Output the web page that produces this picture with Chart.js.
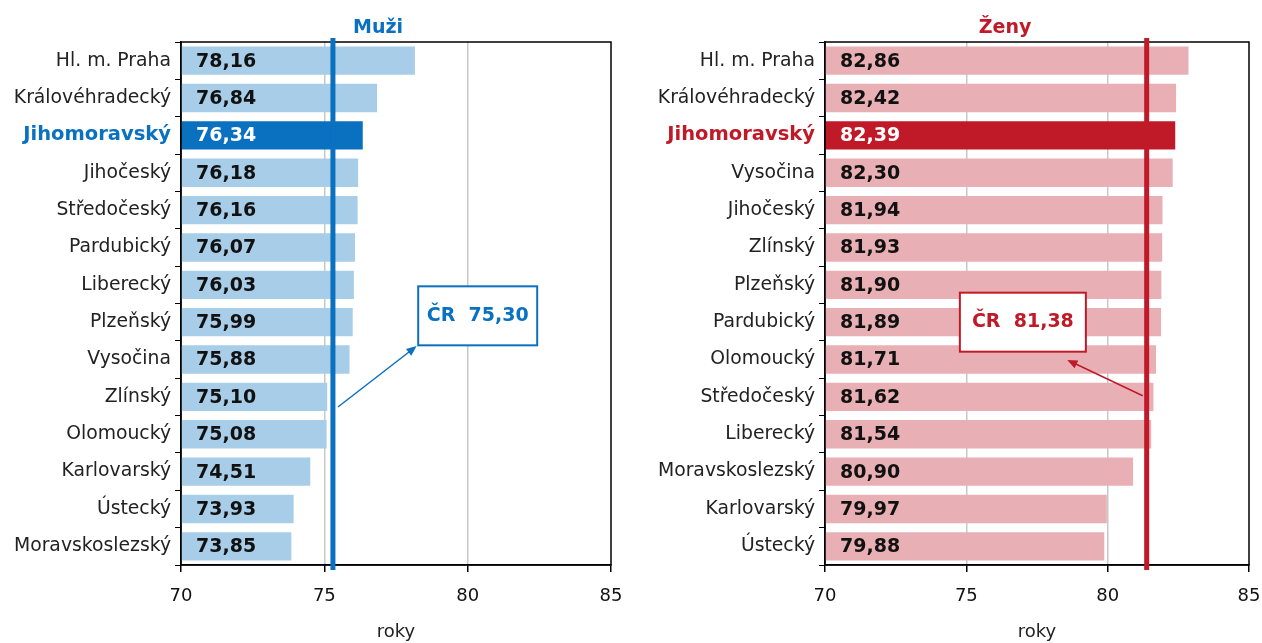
<!DOCTYPE html>
<html>
<head>
<meta charset="utf-8">
<script src="https://cdn.jsdelivr.net/npm/chart.js@4"></script>
<style>
  body { margin: 0; background: #fff; overflow: hidden; }
  .box { position: absolute; top: 0; height: 643px; }
  #left { left: 0; width: 640px; }
  #right { left: 640px; width: 640px; }
</style>
</head>
<body>
<div class="box" id="left"><canvas id="canvasM"></canvas></div>
<div class="box" id="right"><canvas id="canvasZ"></canvas></div>
<script>
//****DATA****//

var menRegions = ['Hl. m. Praha', 'Královéhradecký', 'Jihomoravský', 'Jihočeský', 'Středočeský', 'Pardubický', 'Liberecký', 'Plzeňský', 'Vysočina', 'Zlínský', 'Olomoucký', 'Karlovarský', 'Ústecký', 'Moravskoslezský'];
var menValues = [78.16, 76.84, 76.34, 76.18, 76.16, 76.07, 76.03, 75.99, 75.88, 75.10, 75.08, 74.51, 73.93, 73.85];
var menAverage = 75.30;

var womenRegions = ['Hl. m. Praha', 'Královéhradecký', 'Jihomoravský', 'Vysočina', 'Jihočeský', 'Zlínský', 'Plzeňský', 'Pardubický', 'Olomoucký', 'Středočeský', 'Liberecký', 'Moravskoslezský', 'Karlovarský', 'Ústecký'];
var womenValues = [82.86, 82.42, 82.39, 82.30, 81.94, 81.93, 81.90, 81.89, 81.71, 81.62, 81.54, 80.90, 79.97, 79.88];
var womenAverage = 81.38;

var xTicks = [70, 75, 80, 85];
var highlight = 'Jihomoravský';
var font = "'DejaVu Sans', Verdana, sans-serif";

//****HELPERS****//

function fmt(v) {
  return v.toFixed(2).replace('.', ',');
}

function arrow(ctx, x1, y1, x2, y2, color) {
  var ang = Math.atan2(y2 - y1, x2 - x1);
  ctx.strokeStyle = color;
  ctx.fillStyle = color;
  ctx.lineWidth = 1.5;
  ctx.beginPath();
  ctx.moveTo(x1, y1);
  ctx.lineTo(x2 - 6 * Math.cos(ang), y2 - 6 * Math.sin(ang));
  ctx.stroke();
  ctx.beginPath();
  ctx.moveTo(x2, y2);
  ctx.lineTo(x2 - 11 * Math.cos(ang - 0.4), y2 - 11 * Math.sin(ang - 0.4));
  ctx.lineTo(x2 - 11 * Math.cos(ang + 0.4), y2 - 11 * Math.sin(ang + 0.4));
  ctx.closePath();
  ctx.fill();
}

//****CHART BUILDER****//

function makeChart(id, opts) {
  var ctx = document.getElementById(id).getContext('2d');

  var colors = opts.labels.map(function(l) {
    return l === highlight ? opts.dark : opts.light;
  });

  var extras = {
    id: 'extras',
    afterDatasetsDraw: function(chart) {
      var c = chart.ctx;
      var area = chart.chartArea;
      var xs = chart.scales.x;
      var ys = chart.scales.y;
      var meta = chart.getDatasetMeta(0);

      // value labels inside the bars
      c.save();
      c.font = 'bold 19px ' + font;
      c.textBaseline = 'middle';
      c.textAlign = 'left';
      meta.data.forEach(function(bar, i) {
        c.fillStyle = opts.labels[i] === highlight ? '#fff' : '#111';
        c.fillText(fmt(opts.values[i]), area.left + 15, bar.y + 1);
      });

      // border of the plot
      c.strokeStyle = '#000';
      c.lineWidth = 1.5;
      c.strokeRect(area.left, area.top, area.right - area.left, area.bottom - area.top);

      // average line
      var ax = xs.getPixelForValue(opts.average);
      c.strokeStyle = opts.dark;
      c.lineWidth = 5;
      c.beginPath();
      c.moveTo(ax, area.top - 4);
      c.lineTo(ax, area.bottom + 5);
      c.stroke();

      // callout
      var bx = xs.getPixelForValue(opts.boxX);
      var by = ys.getPixelForValue(opts.boxY);
      var bw = opts.boxW, bh = 59;
      c.fillStyle = '#fff';
      c.fillRect(bx - bw / 2, by - bh / 2, bw, bh);
      c.strokeStyle = opts.dark;
      c.lineWidth = 2;
      c.strokeRect(bx - bw / 2, by - bh / 2, bw, bh);
      c.fillStyle = opts.dark;
      c.font = 'bold 19px ' + font;
      c.textAlign = 'center';
      c.fillText('ČR  ' + fmt(opts.average), bx, by);

      arrow(c, ax + opts.arrowFrom[0], ys.getPixelForValue(opts.arrowFrom[1]),
        xs.getPixelForValue(opts.arrowTo[0]), ys.getPixelForValue(opts.arrowTo[1]), opts.dark);

      // panel title
      c.fillStyle = opts.dark;
      c.font = 'bold 19px ' + font;
      c.textAlign = 'center';
      c.fillText(opts.title, (area.left + area.right) / 2 + opts.titleShift, 28);
      c.restore();
    }
  };

  return new Chart(ctx, {
    type: 'bar',
    data: {
      labels: opts.labels,
      datasets: [
        {
          data: opts.values,
          backgroundColor: colors,
          borderWidth: 0,
          barPercentage: 0.76,
          categoryPercentage: 1
        }
      ]
    },
    options: {
      indexAxis: 'y',
      responsive: true,
      maintainAspectRatio: false,
      animation: false,
      layout: { padding: { top: 42, right: opts.padRight, left: 0, bottom: 0 } },
      plugins: { legend: { display: false }, tooltip: { enabled: false } },
      scales: {
        x: {
          min: 70,
          max: 85,
          afterBuildTicks: function(scale) {
            scale.ticks = xTicks.map(function(v) { return { value: v }; });
          },
          afterFit: function(scale) { scale.height = 78; },
          border: { color: '#000', width: 1.5 },
          grid: {
            color: function(c) {
              return (c.tick && (c.tick.value === 75 || c.tick.value === 80)) ? '#c8c8c8' : 'rgba(0,0,0,0)';
            },
            lineWidth: 1.5,
            tickColor: '#000',
            tickLength: 7
          },
          ticks: {
            color: '#111',
            padding: 14,
            font: { family: font, size: 18 }
          },
          title: {
            display: true,
            text: 'roky',
            color: '#222',
            padding: { top: 0, bottom: 0 },
            font: { family: font, size: 18 }
          }
        },
        y: {
          afterFit: function(scale) { scale.width = opts.axisLeft; },
          border: { color: '#000', width: 1.5 },
          grid: {
            drawOnChartArea: false,
            color: '#000',
            tickLength: 6
          },
          ticks: {
            padding: 4,
            color: function(c) {
              return opts.labels[c.index] === highlight ? opts.dark : '#222';
            },
            font: function(c) {
              var hi = opts.labels[c.index] === highlight;
              return { family: font, size: hi ? 19.5 : 18.8, weight: hi ? 'bold' : 'normal' };
            }
          }
        }
      }
    },
    plugins: [extras]
  });
}

//****CHARTS****//

makeChart('canvasM', {
  labels: menRegions,
  values: menValues,
  average: menAverage,
  title: 'Muži',
  titleShift: -18,
  light: '#a8cde9',
  dark: '#0a70c0',
  axisLeft: 181,
  padRight: 29,
  boxX: 80.35,
  boxY: 6.83,
  boxW: 119,
  arrowFrom: [5, 9.27],
  arrowTo: [78.22, 7.64]
});

makeChart('canvasZ', {
  labels: womenRegions,
  values: womenValues,
  average: womenAverage,
  title: 'Ženy',
  titleShift: -32,
  light: '#e8b0b4',
  dark: '#c01a28',
  axisLeft: 185,
  padRight: 31,
  boxX: 77.0,
  boxY: 7.0,
  boxW: 126,
  arrowFrom: [-4, 8.97],
  arrowTo: [78.57, 8.01]
});
</script>
</body>
</html>
